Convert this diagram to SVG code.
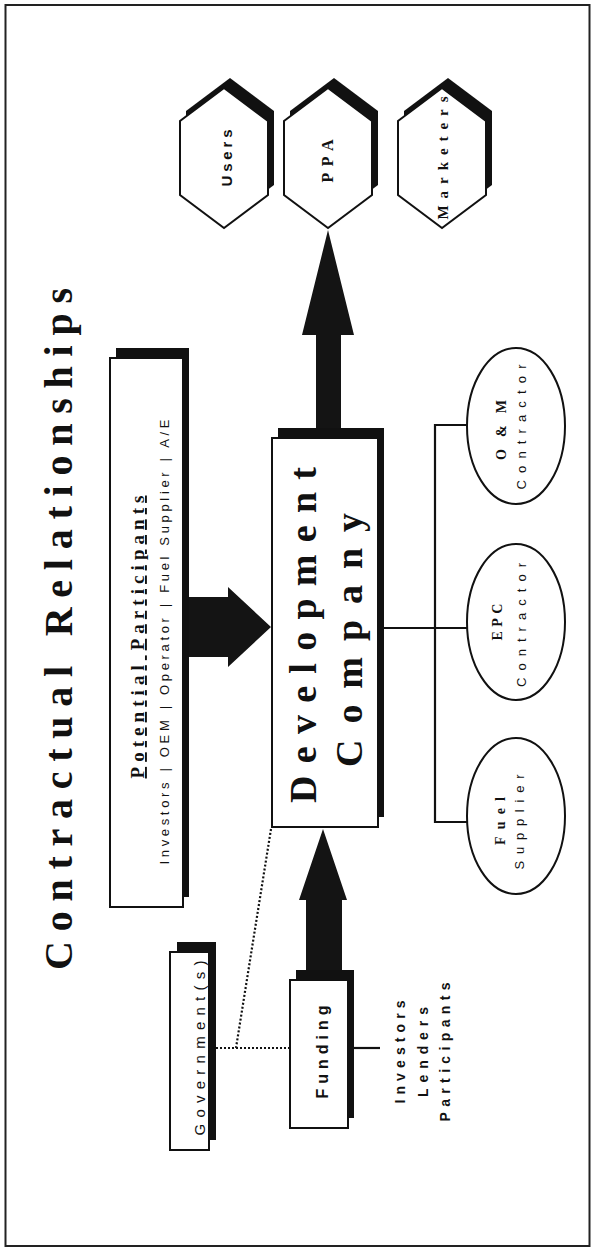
<svg xmlns="http://www.w3.org/2000/svg" width="596" height="1248" viewBox="0 0 596 1248">
<style>
.box{fill:#fff;stroke:#111;stroke-width:2}
.shd{fill:#111}
.ell{fill:#fff;stroke:#111;stroke-width:2}
.ln{stroke:#111;stroke-width:2.2;fill:none}
.dot{stroke:#111;stroke-width:2.2;fill:none;stroke-dasharray:2 2}
.arr{fill:#141414}
.serif{font-family:"Liberation Serif","Times New Roman",serif;font-weight:bold;fill:#111}
.sans{font-family:"Liberation Sans",Arial,sans-serif;fill:#111}
.b{font-weight:bold}
</style>
<rect x="0" y="0" width="596" height="1248" fill="#fff"/>
<rect x="5.5" y="5" width="584" height="1241" fill="none" stroke="#222" stroke-width="2"/>

<g id="title">
<text class="serif" font-size="40" text-anchor="middle" transform="translate(72,629) rotate(-90)" textLength="682" lengthAdjust="spacing">Contractual Relationships</text>
</g>

<g id="connectors">
<polygon class="arr" points="316,430 316,335 302,335 328,230 354,335 341,335 341,430"/>
<polygon class="arr" points="189,597 228,597 228,587 271,627 228,667 228,657 189,657"/>
<polygon class="arr" points="306,972 306,900 299,900 323,829 347,900 342,900 342,972"/>
<line class="ln" x1="384" y1="628" x2="467" y2="628"/>
<line class="ln" x1="435" y1="424" x2="435" y2="823"/>
<line class="ln" x1="434" y1="425" x2="468" y2="425"/>
<line class="ln" x1="434" y1="822" x2="468" y2="822"/>
<line class="ln" x1="348" y1="1048" x2="380" y2="1048"/>
<line class="dot" x1="271" y1="829" x2="236" y2="1048"/>
<line class="dot" x1="216" y1="1048" x2="290" y2="1048"/>
</g>

<g id="users">
<polygon class="shd" points="230,78 274,111 274,185 230,218 186,185 186,111"/>
<polygon class="box" points="224,88 268,121 268,195 224,228 180,195 180,121"/>
<text class="sans b" font-size="15" text-anchor="middle" transform="translate(232,158) rotate(-90)" textLength="57" lengthAdjust="spacing">Users</text>
</g>
<g id="ppa">
<polygon class="shd" points="334,78 378,111 378,185 334,218 290,185 290,111"/>
<polygon class="box" points="328,88 372,121 372,195 328,228 284,195 284,121"/>
<text class="serif" font-size="16" text-anchor="middle" transform="translate(333,161) rotate(-90)" textLength="43" lengthAdjust="spacing">PPA</text>
</g>
<g id="marketers">
<polygon class="shd" points="448,78 492,111 492,185 448,218 404,185 404,111"/>
<polygon class="box" points="442,88 486,121 486,195 442,228 398,195 398,121"/>
<text class="serif" font-size="15" text-anchor="middle" transform="translate(448,158) rotate(-90)" textLength="123" lengthAdjust="spacing">Marketers</text>
</g>

<g id="potential-participants">
<rect class="shd" x="116" y="348" width="73" height="549"/>
<rect class="box" x="110" y="358" width="73" height="549"/>
<text class="serif" font-size="19" text-anchor="middle" text-decoration="underline" transform="translate(144,637) rotate(-90)" textLength="283" lengthAdjust="spacing">Potential Participants</text>
<text class="sans" font-size="13" text-anchor="middle" transform="translate(169,642) rotate(-90)" textLength="445" lengthAdjust="spacing">Investors | OEM | Operator | Fuel Supplier | A/E</text>
</g>

<g id="development-company">
<rect class="shd" x="278" y="428" width="106" height="389"/>
<rect class="box" x="272" y="438" width="106" height="389"/>
<text class="serif" font-size="38" text-anchor="middle" transform="translate(316,635) rotate(-90)" textLength="336" lengthAdjust="spacing">Development</text>
<text class="serif" font-size="38" text-anchor="middle" transform="translate(362,640) rotate(-90)" textLength="254" lengthAdjust="spacing">Company</text>
</g>

<g id="om-contractor">
<ellipse class="ell" cx="516" cy="426" rx="49" ry="78"/>
<text class="serif" font-size="14" text-anchor="middle" transform="translate(506,430) rotate(-90)" textLength="60" lengthAdjust="spacing">O &amp; M</text>
<text class="sans" font-size="13" text-anchor="middle" transform="translate(526,427) rotate(-90)" textLength="125" lengthAdjust="spacing">Contractor</text>
</g>
<g id="epc-contractor">
<ellipse class="ell" cx="516" cy="622" rx="49" ry="78"/>
<text class="serif" font-size="14" text-anchor="middle" transform="translate(502,622) rotate(-90)" textLength="37" lengthAdjust="spacing">EPC</text>
<text class="sans" font-size="13" text-anchor="middle" transform="translate(526,625) rotate(-90)" textLength="124" lengthAdjust="spacing">Contractor</text>
</g>
<g id="fuel-supplier">
<ellipse class="ell" cx="516" cy="816" rx="49" ry="78"/>
<text class="serif" font-size="14" text-anchor="middle" transform="translate(505,821) rotate(-90)" textLength="48" lengthAdjust="spacing">Fuel</text>
<text class="sans" font-size="13" text-anchor="middle" transform="translate(524,822) rotate(-90)" textLength="95" lengthAdjust="spacing">Supplier</text>
</g>

<g id="governments">
<rect class="shd" x="177" y="942" width="39" height="198"/>
<rect class="box" x="170" y="952" width="39" height="198"/>
<text class="sans" font-size="15" text-anchor="middle" transform="translate(205,1048) rotate(-90)" textLength="175" lengthAdjust="spacing">Government(s)</text>
</g>

<g id="funding">
<rect class="shd" x="296" y="970" width="58" height="148"/>
<rect class="box" x="290" y="980" width="58" height="148"/>
<text class="sans b" font-size="16" text-anchor="middle" transform="translate(328,1052) rotate(-90)" textLength="93" lengthAdjust="spacing">Funding</text>
</g>

<g id="funding-sources">
<text class="sans b" font-size="14" text-anchor="middle" transform="translate(405,1052) rotate(-90)" textLength="103" lengthAdjust="spacing">Investors</text>
<text class="sans b" font-size="14" text-anchor="middle" transform="translate(428,1052) rotate(-90)" textLength="90" lengthAdjust="spacing">Lenders</text>
<text class="sans b" font-size="14" text-anchor="middle" transform="translate(450,1052) rotate(-90)" textLength="139" lengthAdjust="spacing">Participants</text>
</g>
</svg>
